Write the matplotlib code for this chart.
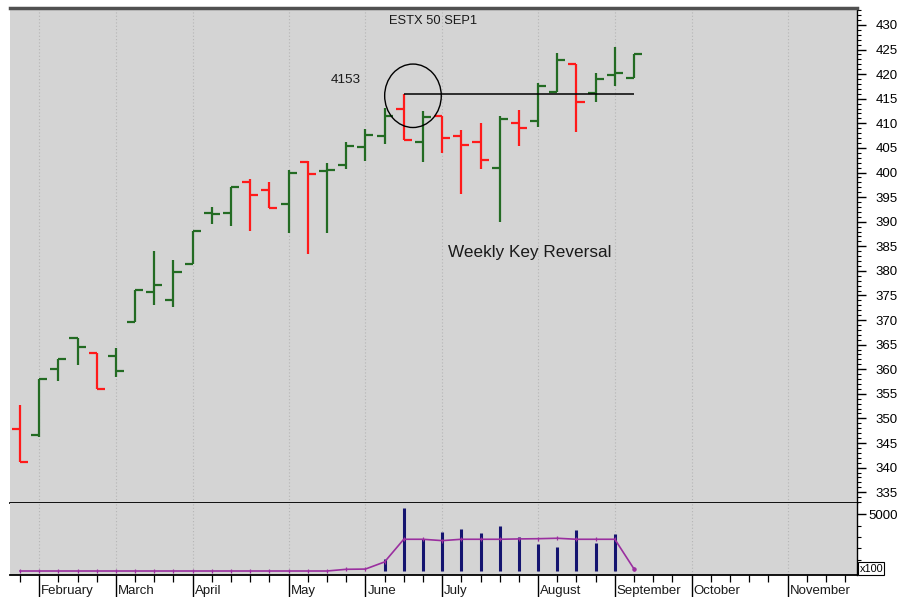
import numpy as np
import pandas as pd
import matplotlib
matplotlib.use("Agg")
import matplotlib.pyplot as plt
from matplotlib.patches import Ellipse
from matplotlib.ticker import MultipleLocator, FixedLocator, NullFormatter

plt.rcParams['font.family'] = ['Liberation Sans', 'DejaVu Sans']

# ---------------- data ----------------
week_start = "2021-01-29"
n_axis_weeks = 44

opens  = [347.8, 346.6, 360.0, 366.3, 363.3, 362.7, 369.6, 375.8, 374.0, 381.3,
          391.7, 391.7, 398.0, 396.5, 393.5, 402.2, 400.4, 401.6, 405.1, 407.5,
          413.0, 406.3, 411.5, 407.5, 406.3, 401.0, 410.1, 410.5, 416.4, 422.1,
          416.2, 419.9, 419.2]
highs  = [352.7, 358.0, 362.0, 366.3, 363.3, 364.3, 376.2, 384.0, 382.3, 388.2,
          392.9, 397.1, 398.6, 398.0, 400.6, 402.4, 402.0, 406.3, 408.9, 413.2,
          416.0, 412.6, 411.5, 408.7, 410.1, 411.5, 412.8, 418.2, 424.3, 422.1,
          420.3, 425.5, 424.1]
lows   = [341.2, 346.2, 357.6, 360.8, 356.0, 358.4, 369.6, 373.0, 372.6, 381.3,
          389.6, 389.2, 388.2, 392.7, 387.6, 383.5, 387.6, 400.8, 402.4, 405.7,
          406.7, 402.2, 404.0, 395.7, 400.8, 390.0, 405.3, 409.3, 416.4, 408.3,
          414.4, 417.6, 419.2]
closes = [341.2, 358.0, 362.0, 364.5, 356.0, 359.6, 376.2, 377.1, 379.7, 388.2,
          391.5, 397.1, 395.5, 392.7, 399.8, 399.6, 400.6, 405.3, 407.7, 411.5,
          406.7, 411.3, 407.1, 405.5, 402.6, 410.9, 409.1, 417.6, 422.9, 414.4,
          419.0, 420.3, 424.1]
volume = [0, 0, 0, 0, 0, 0, 0, 0, 0, 0,
          0, 0, 0, 0, 0, 0, 0, 0, 0, 1060,
          5560, 2820, 3440, 3710, 3350, 3970, 3000, 2380, 2120, 3620,
          2470, 3270, 0]
vol_avg = [0, 0, 0, 0, 0, 0, 0, 0, 0, 0,
           0, 0, 0, 0, 0, 0, 0, 150, 170, 800,
           2800, 2800, 2680, 2800, 2800, 2800, 2830, 2850, 2890, 2800,
           2800, 2800, 180]
price_ticks = list(range(335, 431, 5))
key_label = "4153"
title = "ESTX 50 SEP1"
note = "Weekly Key Reversal"

# ---------------- figure ----------------
W, H = 899, 597
fig = plt.figure(figsize=(W / 100, H / 100), dpi=100, facecolor='white')

def px_rect(x0, y0, x1, y1):
    return [x0 / W, (H - y1) / H, (x1 - x0) / W, (y1 - y0) / H]

ax = fig.add_axes(px_rect(10, 8, 857, 503))
ax2 = fig.add_axes(px_rect(10, 503, 857, 575), sharex=ax)

bg = '#d4d4d4'
for a in (ax, ax2):
    a.set_facecolor(bg)
    a.spines['left'].set_visible(False)
    a.spines['right'].set_color('black')
    a.spines['right'].set_linewidth(1.0)
    a.yaxis.tick_right()

ax.spines['top'].set_color('#505050')
ax.spines['top'].set_linewidth(2.5)
ax.spines['bottom'].set_color('black')
ax.spines['bottom'].set_linewidth(1.3)
ax2.spines['top'].set_visible(False)
ax2.spines['bottom'].set_color('black')
ax2.spines['bottom'].set_linewidth(1.3)

dates = pd.date_range(week_start, periods=n_axis_weeks, freq='7D')
idx_all = np.arange(n_axis_weeks)
n = len(closes)
idx = np.arange(n)

month_idx = [i for i in range(1, n_axis_weeks) if dates[i].month != dates[i - 1].month]
month_names = [dates[i].strftime('%B') for i in month_idx]

ax.set_xlim(-0.52, 43.62)
ax.set_ylim(332.8, 433.45)
ax2.set_ylim(-353, 6000)

# gridlines at month starts
for a in (ax, ax2):
    for m in month_idx:
        a.axvline(m, color='#b5b5b5', lw=0.8, ls=(0, (1, 2)), zorder=0)

# ---------------- OHLC bars ----------------
green = '#236b23'
red = '#ff1a1a'
tick = 0.42
for i in idx:
    prev = closes[i - 1] if i > 0 else opens[i]
    col = green if closes[i] >= prev else red
    ax.vlines(i, lows[i], highs[i], color=col, lw=1.6, zorder=3)
    ax.hlines(opens[i], i - tick, i, color=col, lw=1.6, zorder=3)
    ax.hlines(closes[i], i, i + tick, color=col, lw=1.6, zorder=3)

# key reversal marker
key_i = 20
key_high = highs[key_i]
ax.hlines(key_high, key_i, n - 1, color='black', lw=1.1, zorder=4)
ax.add_patch(Ellipse((key_i + 0.48, key_high - 0.4), 2.95, 12.9,
                     fill=False, edgecolor='black', lw=1.0, zorder=4))
ax.text(key_i - 3.0, key_high + 2.8, key_label, fontsize=9.7,
        ha='center', va='center', color='#1a1a1a')
ax.text(0.5, 0.974, title, transform=ax.transAxes, fontsize=9.3,
        ha='center', va='center', color='#1a1a1a')
ax.text(22.3, 383.7, note, fontsize=12.3, ha='left', va='center', color='#1a1a1a')

# right axis price ticks
ax.yaxis.set_major_locator(FixedLocator(price_ticks))
ax.yaxis.set_minor_locator(MultipleLocator(1))
ax.set_yticklabels([str(v) for v in price_ticks])
ax.tick_params(axis='y', which='major', direction='out', length=6.5, width=1.0,
               pad=7, labelsize=9.5, colors='black')
ax.tick_params(axis='y', which='minor', direction='out', length=3, width=0.8,
               colors='black')
ax.tick_params(axis='x', which='both', bottom=False, labelbottom=False)

# ---------------- volume panel ----------------
vol = np.array(volume)
mask = vol > 0
ax2.vlines(idx[mask], 0, vol[mask], color='#141470', lw=2.2, zorder=3)
ax2.plot(idx, vol_avg, color='#9a2f9f', lw=1.2, marker='|', ms=3.5, mew=0.9,
         zorder=4)
ax2.plot(idx[-1:], vol_avg[-1:], color='#9a2f9f', marker='o', ms=2.2, zorder=4)

ax2.yaxis.set_major_locator(FixedLocator([5000]))
ax2.yaxis.set_minor_locator(FixedLocator([0, 1000, 2000, 3000, 4000]))
ax2.set_yticklabels(['5000'])
ax2.tick_params(axis='y', which='major', direction='out', length=6.5, width=1.0,
                pad=1.5, labelsize=9.5, colors='black')
ax2.tick_params(axis='y', which='minor', direction='out', length=3, width=0.8)
ax2.text(1.003, 0.09, 'x100', transform=ax2.transAxes, fontsize=7.8,
         ha='left', va='center',
         bbox=dict(boxstyle='square,pad=0.12', fc='white', ec='black', lw=0.8))

# x axis: weekly minor ticks, month major ticks
ax2.xaxis.set_major_locator(FixedLocator(month_idx))
ax2.xaxis.set_minor_locator(FixedLocator([i for i in idx_all if i not in month_idx]))
ax2.xaxis.set_major_formatter(NullFormatter())
ax2.tick_params(axis='x', which='major', direction='out', length=17, width=1.0,
                colors='black')
ax2.tick_params(axis='x', which='minor', direction='out', length=5, width=0.9,
                colors='black')
for m, name in zip(month_idx, month_names):
    ax2.annotate(name, xy=(m, 0), xycoords=('data', 'axes fraction'),
                 xytext=(1.5, -6.9), textcoords='offset points',
                 ha='left', va='top', fontsize=9.5, color='#1a1a1a',
                 annotation_clip=False)

fig.savefig('out.png', dpi=100, facecolor='white')
